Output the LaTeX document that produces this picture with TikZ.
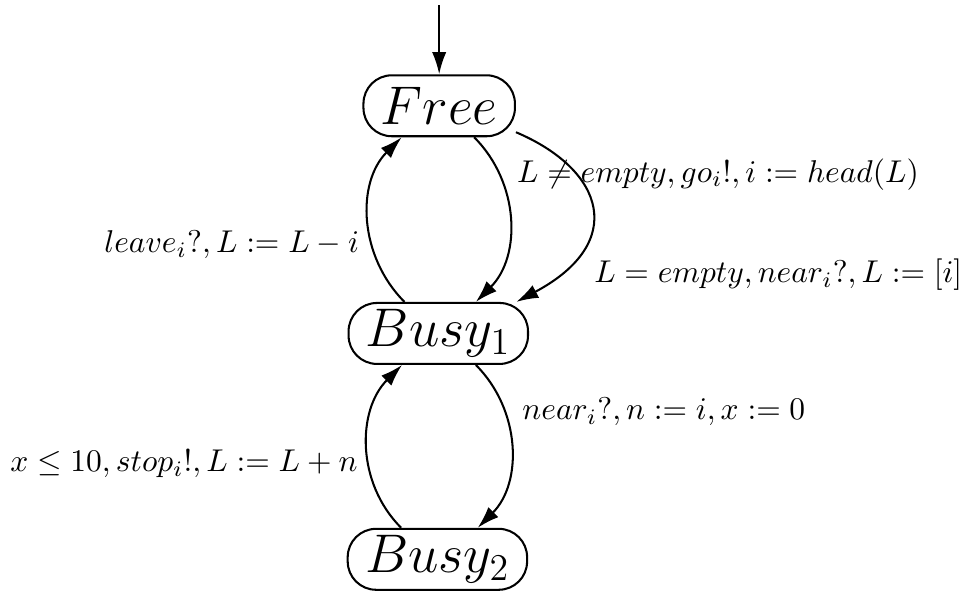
\documentclass[tikz,border=0pt]{standalone}
\usetikzlibrary{arrows.meta}

\tikzset{
  loc/.style={draw, rounded corners=9pt, minimum height=0.68cm, inner xsep=5.5pt, inner ysep=1pt, font=\LARGE},
  trans/.style={-{Latex[length=7pt,width=4.5pt]}}
}

\begin{document}
\begin{tikzpicture}[line width=0.65pt]
  \useasboundingbox (0,0) rectangle (10.80,-6.60);
  \coordinate (init) at (4.90,-0.06);
  \node[loc] (Free) at (4.90,-1.18) {$Free$};
  \node[loc] (Busy1) at (4.89,-3.72) {$Busy_1$};
  \node[loc] (Busy2) at (4.88,-6.24) {$Busy_2$};
  \draw[trans] (init) -- (Free);
  % Free <-> Busy1
  \draw[trans] (Free.-42) to[out=-45,in=45]
    node[pos=0.24,right=2pt] {$L \neq empty, go_i!, i := head(L)$} (Busy1.40);
  \draw[trans] (Free.-19) to[out=-23,in=28,out looseness=1.45,in looseness=1.9]
    node[pos=0.85,right=8pt] {$L = empty, near_i?, L := [i]$} (Busy1.22);
  \draw[trans] (Busy1.137) to[out=135,in=-135]
    node[pos=0.36,left=0.5pt] {$leave_i?, L := L - i$} (Free.220);
  % Busy1 <-> Busy2
  \draw[trans] (Busy1.-40) to[out=-45,in=45]
    node[pos=0.3,right=2pt] {$near_i?, n := i, x := 0$} (Busy2.38);
  \draw[trans] (Busy2.139) to[out=135,in=-135]
    node[pos=0.4,left=0pt] {$x \leq 10, stop_i!, L := L + n$} (Busy1.221);
\end{tikzpicture}
\end{document}
